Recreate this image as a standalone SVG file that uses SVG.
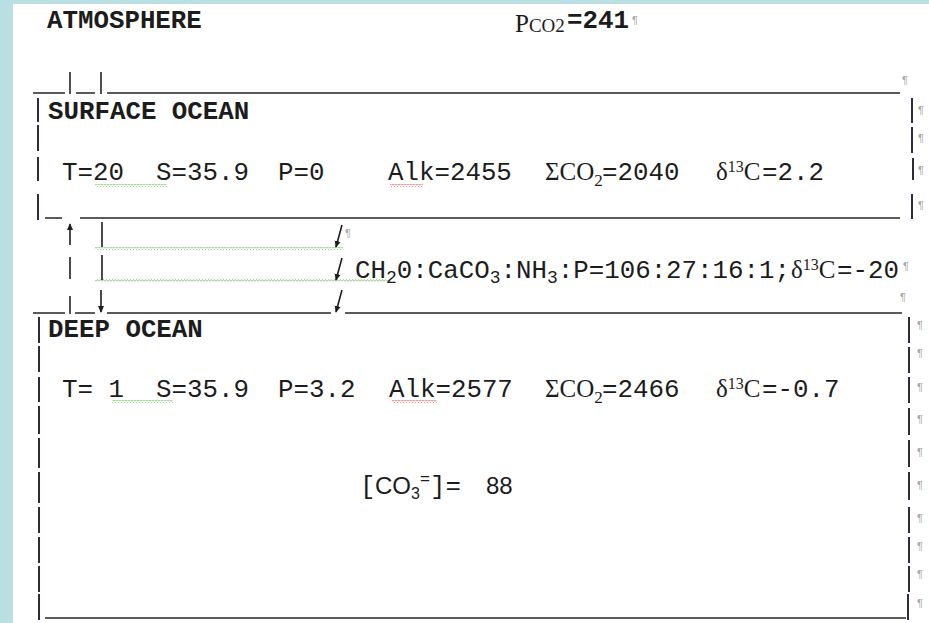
<svg xmlns="http://www.w3.org/2000/svg" width="929" height="623" viewBox="0 0 929 623">
<style>
.m{font-family:"Liberation Mono","Courier New",monospace;font-size:25.8px;fill:#1c1c1c}
.b{font-weight:bold}
.s{font-family:"Liberation Serif","Times New Roman",serif;font-size:25px;fill:#1c1c1c}
.sa{font-family:"Liberation Sans",Arial,sans-serif;font-size:24px;fill:#1c1c1c}
.pil{font-family:"Liberation Sans",Arial,sans-serif;font-size:11px;fill:#a8a8a8}
.ln{stroke:#262626;stroke-width:1.6;fill:none}
.wall{stroke:#2f2b3c;stroke-width:2;fill:none}
.arr{stroke:#1e1e1e;stroke-width:1.6;fill:none}
</style>
<defs>
<pattern id="wg" width="3" height="3" patternUnits="userSpaceOnUse"><path d="M0,2.5 L1.5,0.5 L3,2.5" stroke="#72c266" stroke-width="0.8" fill="none"/></pattern>
<pattern id="wr" width="3" height="3" patternUnits="userSpaceOnUse"><path d="M0,2.5 L1.5,0.5 L3,2.5" stroke="#e0605c" stroke-width="0.8" fill="none"/></pattern>
<marker id="ah" viewBox="0 0 8 8" refX="7" refY="4" markerWidth="7" markerHeight="7" markerUnits="userSpaceOnUse" orient="auto"><path d="M0,0.5 L8,4 L0,7.5 z" fill="#1e1e1e"/></marker>
</defs>
<rect width="929" height="623" fill="#b9dfe2"/>
<rect x="13" y="4" width="916" height="619" fill="#ffffff"/>

<g id="atmosphere">
<text class="m b" x="47" y="28">ATMOSPHERE</text>
<text class="s" x="515" y="32" font-size="27">P<tspan font-size="19">CO2</tspan></text>
<text class="m b" x="567" y="28">=241</text>
<text class="pil" x="632" y="24">¶</text>
</g>

<g id="surface-ocean">
<path class="ln" d="M33,93 H65 M76,93 H95 M107,93 H900 M70,72 V94 M101,72 V94"/>
<text class="pil" x="902" y="84">¶</text>
<path class="wall" d="M38,98 V122 M38,125 V151 M38,157 V181 M38,194 V220"/>
<path class="wall" d="M912,98 V123 M912,127 V153 M913,158 V180 M912,194 V219"/>
<path class="ln" d="M45,218 H62 M80,218 H900"/>
<text class="m b" x="48" y="119">SURFACE OCEAN</text>
<text class="m" y="180"><tspan x="62">T=20</tspan><tspan x="156">S=35.9</tspan><tspan x="278">P=0</tspan><tspan x="388">Alk=2455</tspan></text>
<text class="s" x="545" y="180">ΣCO<tspan font-size="17" dy="6">2</tspan></text>
<text class="m" x="602" y="180">=2040</text>
<text class="s" x="716" y="180">δ<tspan font-size="16" dy="-8">13</tspan><tspan dy="8">C</tspan></text>
<text class="m" x="762" y="180">=2.2</text>
<rect x="95" y="184" width="72" height="3" fill="url(#wg)"/>
<rect x="390" y="184" width="33" height="3" fill="url(#wr)"/>
<text class="pil" x="918" y="114">¶</text>
<text class="pil" x="918" y="142">¶</text>
<text class="pil" x="918" y="174">¶</text>
<text class="pil" x="918" y="209">¶</text>
</g>

<g id="flux-label">
<text class="m" x="355" y="278">CH<tspan font-size="18" dy="5">2</tspan><tspan dy="-5">0:CaCO</tspan><tspan font-size="18" dy="5">3</tspan><tspan dy="-5">:NH</tspan><tspan font-size="18" dy="5">3</tspan><tspan dy="-5">:P=106:27:16:1;</tspan></text>
<text class="s" x="791" y="278">δ<tspan font-size="16" dy="-8">13</tspan><tspan dy="8">C</tspan></text>
<text class="m" x="837" y="278">=-20</text>
<text class="pil" x="903" y="270">¶</text>
<rect x="95" y="247" width="248" height="3" fill="url(#wg)"/>
<rect x="95" y="279" width="293" height="3" fill="url(#wg)"/>
<text class="pil" x="345" y="237">¶</text>
<text class="pil" x="900" y="301">¶</text>
</g>

<g id="connectors">
<line class="arr" x1="70" y1="245" x2="70" y2="224" marker-end="url(#ah)"/>
<path class="arr" d="M70,257 V279 M102,222 V247 M102,255 V280"/>
<line class="arr" x1="101" y1="290" x2="101" y2="312" marker-end="url(#ah)"/>
<line class="arr" x1="342" y1="225" x2="336" y2="247" marker-end="url(#ah)"/>
<line class="arr" x1="342" y1="258" x2="336" y2="280" marker-end="url(#ah)"/>
<line class="arr" x1="342" y1="290" x2="336" y2="312" marker-end="url(#ah)"/>
</g>

<g id="deep-ocean">
<path class="ln" d="M33,313 H65 M75,313 H95 M107,313 H331 M345,313 H902 M70,296 V314"/>
<path class="wall" d="M39,317 V343 M39,346 V372 M39,377 V402 M39,406 V434 M39,438 V468 M39,472 V503 M39,507 V533 M39,537 V563 M39,566 V592 M39,594 V620"/>
<path class="wall" d="M909,317 V343 M909,347 V373 M909,377 V403 M909,408 V435 M909,440 V467 M909,472 V500 M909,507 V533 M909,537 V563 M909,566 V592 M908,594 V620"/>
<path class="ln" d="M45,618 H906"/>
<text class="m b" x="48" y="337">DEEP OCEAN</text>
<text class="m" y="397"><tspan x="62">T= 1</tspan><tspan x="156">S=35.9</tspan><tspan x="278">P=3.2</tspan><tspan x="389">Alk=2577</tspan></text>
<text class="s" x="545" y="397">ΣCO<tspan font-size="17" dy="6">2</tspan></text>
<text class="m" x="602" y="397">=2466</text>
<text class="s" x="716" y="397">δ<tspan font-size="16" dy="-8">13</tspan><tspan dy="8">C</tspan></text>
<text class="m" x="762" y="397">=-0.7</text>
<rect x="112" y="400" width="61" height="3" fill="url(#wg)"/>
<rect x="392" y="400" width="45" height="3" fill="url(#wr)"/>
<text class="m" x="360" y="494">[</text>
<text class="sa" x="375" y="494">CO<tspan font-size="16" dy="5">3</tspan><tspan font-size="17" dy="-15">=</tspan></text>
<text class="m" x="430" y="494">]=</text>
<text class="sa" x="486" y="494">88</text>
<text class="pil" x="917" y="329">¶</text>
<text class="pil" x="917" y="357">¶</text>
<text class="pil" x="917" y="391">¶</text>
<text class="pil" x="917" y="423">¶</text>
<text class="pil" x="917" y="456">¶</text>
<text class="pil" x="917" y="489">¶</text>
<text class="pil" x="917" y="522">¶</text>
<text class="pil" x="917" y="550">¶</text>
<text class="pil" x="917" y="578">¶</text>
<text class="pil" x="917" y="607">¶</text>
</g>
</svg>
